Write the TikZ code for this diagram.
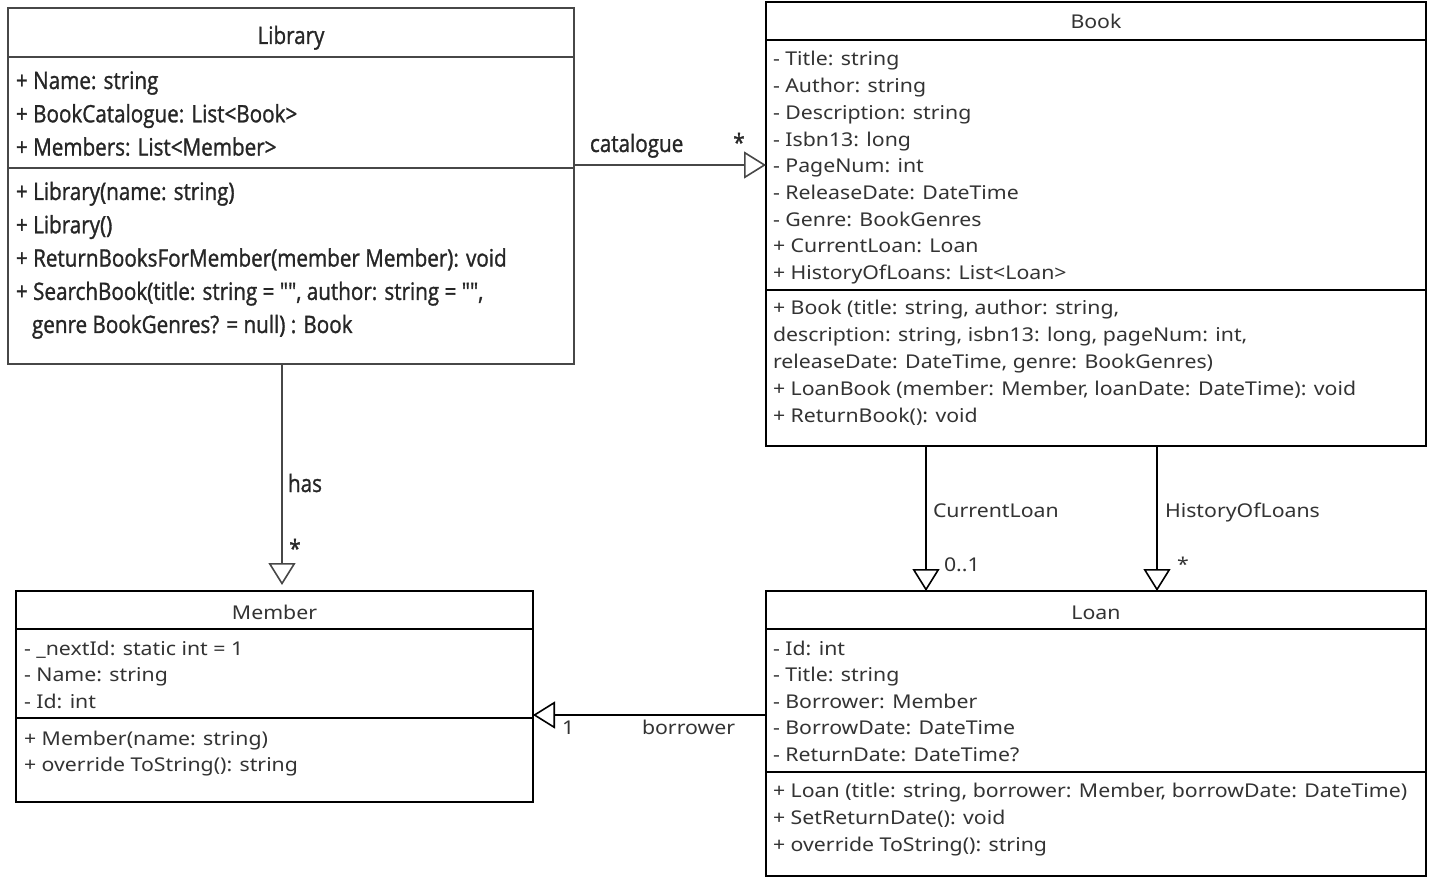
\documentclass[tikz,border=0pt]{standalone}
\usepackage{fontspec}
\setmainfont[FakeStretch=1.12]{Noto Sans}
\newfontfamily\libfont[FakeStretch=0.86,FakeBold=1.2]{Open Sans}
\usetikzlibrary{arrows.meta}

\tikzset{
  classbox/.style={draw=black, line width=1.6pt, inner sep=0pt, outer sep=0pt, anchor=north west},
  libbox/.style={classbox, draw=black!72, line width=2pt},
  sepline/.style={line width=1.6pt},
  libsep/.style={line width=2pt, draw=black!72},
  entry/.style={anchor=base west, inner sep=0pt, outer sep=0pt,
    font=\fontsize{19}{23}\selectfont, text=black!80},
  libentry/.style={entry, font=\libfont\fontsize{24}{28}\selectfont, text=black!85},
  heading/.style={entry, anchor=base},
  libheading/.style={libentry, anchor=base},
  assoc/.style={line width=1.6pt,
    -{Triangle[open, length=22pt, width=27pt, line width=1.6pt]}},
  libassoc/.style={assoc, draw=black!72},
}

% one text node per row: prefix, style, x, first baseline, pitch, rows
\newcommand\classrows[6]{%
  \foreach \t [count=\i] in {#6} {
    \node[#2] (#1-\i) at (#3, {#4+(\i-1)*#5}) {\t};
  }%
}

\begin{document}
\begin{tikzpicture}[x=1pt, y=-1pt]
  \useasboundingbox[fill=white] (0,0) rectangle (1434,882);

  % ---------------- Library ----------------
  \node[libbox, minimum width=566pt, minimum height=356pt] (library) at (8,8) {};
  \draw[libsep] (library.west |- 0,57) -- (library.east |- 0,57);
  \draw[libsep] (library.west |- 0,168) -- (library.east |- 0,168);
  \node[libheading] (library-title) at (291,44) {Library};
  \classrows{libattr}{libentry}{16}{89}{33.3}{
    {+ Name: string},
    {+ BookCatalogue: List<Book>},
    {+ Members: List<Member>}}
  \classrows{libop}{libentry}{16}{200}{33.3}{
    {+ Library(name: string)},
    {+ Library()},
    {+ ReturnBooksForMember(member Member): void},
    {+ SearchBook(title: string = "", author: string = "",}}
  \node[libentry] (libop-5) at (32,333) {genre BookGenres? = null) : Book};

  % ---------------- Book ----------------
  \node[classbox, minimum width=660pt, minimum height=444pt] (book) at (766,2) {};
  \draw[sepline] (book.west |- 0,40) -- (book.east |- 0,40);
  \draw[sepline] (book.west |- 0,290) -- (book.east |- 0,290);
  \node[heading] (book-title) at (1096,29) {Book};
  \classrows{bookattr}{entry}{773}{66}{26.7}{
    {- Title: string},
    {- Author: string},
    {- Description: string},
    {- Isbn13: long},
    {- PageNum: int},
    {- ReleaseDate: DateTime},
    {- Genre: BookGenres},
    {+ CurrentLoan: Loan},
    {+ HistoryOfLoans: List<Loan>}}
  \classrows{bookop}{entry}{773}{315}{26.75}{
    {+ Book (title: string, author: string,},
    {description: string, isbn13: long, pageNum: int,},
    {releaseDate: DateTime, genre: BookGenres)},
    {+ LoanBook (member: Member, loanDate: DateTime): void},
    {+ ReturnBook(): void}}

  % ---------------- Member ----------------
  \node[classbox, minimum width=517pt, minimum height=211pt] (member) at (16,591) {};
  \draw[sepline] (member.west |- 0,629) -- (member.east |- 0,629);
  \draw[sepline] (member.west |- 0,718) -- (member.east |- 0,718);
  \node[heading] (member-title) at (274.5,619) {Member};
  \classrows{memattr}{entry}{24}{655}{26.6}{
    {- \_nextId: static int = 1},
    {- Name: string},
    {- Id: int}}
  \classrows{memop}{entry}{24}{745}{26.6}{
    {+ Member(name: string)},
    {+ override ToString(): string}}

  % ---------------- Loan ----------------
  \node[classbox, minimum width=660pt, minimum height=285pt] (loan) at (766,591) {};
  \draw[sepline] (loan.west |- 0,629) -- (loan.east |- 0,629);
  \draw[sepline] (loan.west |- 0,772) -- (loan.east |- 0,772);
  \node[heading] (loan-title) at (1096,619) {Loan};
  \classrows{loanattr}{entry}{773}{655}{26.6}{
    {- Id: int},
    {- Title: string},
    {- Borrower: Member},
    {- BorrowDate: DateTime},
    {- ReturnDate: DateTime?}}
  \classrows{loanop}{entry}{773}{797}{27}{
    {+ Loan (title: string, borrower: Member, borrowDate: DateTime)},
    {+ SetReturnDate(): void},
    {+ override ToString(): string}}

  % ---------------- Associations ----------------
  \draw[libassoc] (library.east |- 0,165) -- (book.west |- 0,165);
  \node[libentry] (cat-label) at (590,152) {catalogue};
  \node[libentry, anchor=center] (cat-mult) at (739,142) {*};

  \draw[libassoc, shorten >=6pt] (library.south -| 282,0) -- (member.north -| 282,0);
  \node[libentry] (has-label) at (288,492) {has};
  \node[libentry, anchor=center] (has-mult) at (295,548) {*};

  \draw[assoc] (book.south -| 926,0) -- (loan.north -| 926,0);
  \node[entry] (cur-label) at (933,517) {CurrentLoan};
  \node[entry] (cur-mult) at (944,571) {0..1};

  \draw[assoc] (book.south -| 1157,0) -- (loan.north -| 1157,0);
  \node[entry] (hist-label) at (1165,517) {HistoryOfLoans};
  \node[entry, anchor=center] (hist-mult) at (1183,564) {*};

  \draw[assoc] (loan.west |- 0,715) -- (member.east |- 0,715);
  \node[entry] (bor-mult) at (562,734) {1};
  \node[entry] (bor-label) at (642,734) {borrower};
\end{tikzpicture}
\end{document}
